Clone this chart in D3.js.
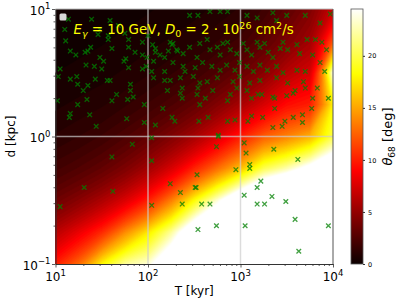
<!DOCTYPE html>
<html>
<head>
<meta charset="utf-8">
<script src="https://cdn.jsdelivr.net/npm/d3@7"></script>
<style>
body { margin: 0; background: #fff; }
text { font-family: "DejaVu Sans", sans-serif; }
</style>
</head>
<body>
<svg width="407" height="305"></svg>
<script>
var screen = {width: 407, height: 305}
var margins = {top: 9, right: 74, bottom: 41, left: 55.5}
var width = screen.width - margins.left - margins.right
var height = screen.height - margins.top - margins.bottom

// grid of theta_68: rows d = 10 ... 0.1, cols T = 10 ... 1e4 (log steps 0.25)
var gridLogT = [1, 1.25, 1.5, 1.75, 2, 2.25, 2.5, 2.75, 3, 3.25, 3.5, 3.75, 4]
var gridLogD = [1, 0.75, 0.5, 0.25, 0, -0.25, -0.5, -0.75, -1]
var theta68 = [
  [0.11, 0.14, 0.18, 0.24, 0.32, 0.43, 0.57, 0.8, 1.1, 1.8, 3.0, 4.3, 7],
  [0.2, 0.25, 0.32, 0.43, 0.57, 0.76, 1.0, 1.4, 1.9, 2.9, 4.2, 5.5, 12],
  [0.35, 0.45, 0.57, 0.76, 1.0, 1.36, 1.8, 2.5, 3.4, 4.6, 6.3, 7.5, 24],
  [0.63, 0.8, 1.0, 1.35, 1.8, 2.4, 3.2, 4.4, 5.8, 7.5, 9.3, 10, 18],
  [1.1, 1.4, 1.8, 2.4, 3.2, 4.3, 5.7, 7.6, 9.9, 12.3, 13.7, 15.4, 20],
  [2.0, 2.5, 3.2, 4.2, 5.6, 7.5, 10.2, 12.95, 16, 20.2, 22.5, 26, 30],
  [3.6, 4.6, 5.9, 7.6, 10, 13.5, 18.3, 23.5, 30, 36, 40, 42, 45],
  [6.4, 8.2, 10.4, 14, 17.5, 22, 29, 33, 45, 55, 58, 60, 65],
  [10, 12.8, 18, 22, 23.5, 29, 35, 45, 60, 75, 75, 80, 90]
]

// pulsars: [log10 T/kyr, log10 d/kpc]
var pulsarLogTD = [
  [1.10,0.84],[1.11,0.75],[1.16,0.67],[1.22,0.64],[1.32,0.66],[1.38,0.70],[1.46,0.80],[1.57,0.79],
  [1.57,0.76],[1.61,0.69],[1.48,0.62],[1.52,0.59],[1.35,0.67],[1.79,0.76],[1.79,0.70],[1.86,0.66],
  [1.94,0.74],[1.94,0.64],[2.00,0.79],[1.05,0.53],[1.33,0.56],[1.42,0.55],[1.50,0.53],[1.23,0.47],
  [1.16,0.45],[1.74,0.59],[1.76,0.61],[1.79,0.54],[1.94,0.53],[1.98,0.55],[1.03,0.47],[1.43,0.45],
  [1.56,0.44],[1.59,0.44],[1.24,0.41],[1.35,0.40],[1.30,0.36],[1.81,0.41],[1.81,0.36],[1.66,0.33],
  [1.78,0.29],[1.84,0.31],[1.24,0.25],[1.96,0.25],[1.16,0.18],[1.15,0.15],[1.37,0.17],[1.44,0.08],
  [1.77,0.14],[1.96,0.11],[1.02,0.28],[2.06,0.59],[2.08,0.69],[2.06,0.46],[2.22,0.67],[2.26,0.72],
  [2.32,0.67],[2.40,0.51],[2.37,0.38],[2.37,0.30],[2.08,0.09],[2.16,0.22],[2.26,0.15],[2.29,0.12],
  [2.18,0.51],[2.04,0.51],[1.14,0.92],[1.39,0.92],[1.59,0.91],[1.68,0.87],[1.48,0.84],[1.75,0.81],
  [1.34,0.29],[1.61,0.28],
  [2.45,0.95],[2.54,0.95],[2.67,0.98],[2.78,0.98],[2.86,0.98],[3.07,0.95],[3.35,0.97],[3.50,0.95],
  [3.70,0.95],[3.97,0.96],[3.86,0.89],[3.39,0.91],[3.18,0.93],
  [2.24,0.74],[2.05,0.72],[2.08,0.66],[2.13,0.64],[2.27,0.73],[2.31,0.68],[2.38,0.65],[2.45,0.70],
  [2.53,0.62],[2.56,0.73],[2.64,0.76],[2.67,0.68],[2.75,0.70],[2.78,0.64],[2.81,0.73],[2.86,0.74],
  [2.89,0.68],[2.96,0.65],[3.03,0.73],[3.07,0.68],[3.12,0.64],[3.18,0.74],[3.21,0.70],[3.26,0.73],
  [3.30,0.66],[3.35,0.62],[3.43,0.69],[3.46,0.74],[3.51,0.68],[3.61,0.72],[3.64,0.65],[3.72,0.76],
  [3.81,0.76],[3.88,0.74],[3.93,0.68],[3.78,0.64],[1.99,0.62],[2.18,0.62],[2.27,0.58],[2.38,0.55],
  [2.51,0.54],[2.59,0.58],[2.69,0.55],[2.78,0.52],[2.85,0.56],[2.94,0.52],[2.99,0.58],[3.07,0.55],
  [3.14,0.51],[3.21,0.56],[3.29,0.52],[3.39,0.55],[3.46,0.50],[3.61,0.52],[3.70,0.51],[3.86,0.58],
  [3.91,0.51],[2.18,0.44],[2.35,0.46],[2.49,0.47],[2.56,0.42],[2.64,0.43],[2.75,0.46],[2.92,0.43],
  [2.99,0.47],[3.10,0.42],[3.21,0.44],[3.39,0.46],[3.51,0.42],[3.68,0.43],[3.83,0.38],[3.95,0.30],
  [3.57,0.34],[3.35,0.31],[3.19,0.33],[3.07,0.36],[2.89,0.33],[2.70,0.36],[2.53,0.33],[2.35,0.34],
  [2.21,0.36],[2.24,0.44],
  [2.54,0.38],[2.62,0.30],[2.56,0.25],[2.86,0.28],[2.96,0.38],[3.12,0.30],[3.23,0.33],[3.37,0.30],
  [3.50,0.32],[3.59,0.36],[3.70,0.38],[3.78,0.30],[2.65,0.15],[2.86,0.12],[3.12,0.16],[3.24,0.15],
  [3.37,0.22],[3.48,0.12],[3.57,0.15],[3.67,0.17],[3.35,0.07],[3.45,0.08],[3.67,0.11],[3.77,0.22],
  [2.55,0.12],[2.76,0.01],[2.94,0.13],[3.08,0.12],
  [2.04,-0.01],[1.83,-0.06],[1.61,-0.16],[2.04,-0.19],[1.31,-0.40],[1.62,-0.43],[1.05,-0.55],
  [2.04,-0.54],[2.24,-0.37],[2.35,-0.44],[2.37,-0.53],[2.51,-0.40],[2.76,0.00],[3.04,-0.05],
  [2.74,-0.08],[3.06,-0.13],[3.36,-0.10],[3.10,-0.22],[3.10,-0.25],[2.95,-0.26],[3.62,-0.18],
  [2.53,-0.30],[2.52,-0.40],[3.22,-0.35],[3.18,-0.40],[3.04,-0.46],[3.34,-0.47],[3.18,-0.53],
  [3.26,-0.53],[3.49,-0.51],[2.58,-0.53],[2.67,-0.53],[3.59,-0.65],[2.74,-0.70],[2.54,-0.73],
  [3.05,-0.70],[3.95,-0.70],[3.63,-0.90]
]

var xTicks = [10, 100, 1000, 10000]
var xTickExp = ["1", "2", "3", "4"]
var yTicks = [0.1, 1, 10]
var yTickExp = ["\u22121", "0", "1"]
var cbarTicks = [0, 5, 10, 15, 20]

var vmax = 24.5
var hotStops = [0, 0.365, 0.746, 1]
var hotColors = ["rgb(11,0,0)", "rgb(255,0,0)", "rgb(255,255,0)", "rgb(255,255,255)"]
var hot = d3.scaleLinear()
    .domain(hotStops.map(function(s){ return s * vmax }))
    .range(hotColors)
    .clamp(true)

var svg = d3.select("svg")

var xScale = d3.scaleLog().domain([10, 1e4]).range([0, width])
var yScale = d3.scaleLog().domain([0.1, 10]).range([height, 0])

var graph = svg.append("g")
    .attr("id", "graph")
    .attr("transform", "translate(" + margins.left + "," + margins.top + ")")

svg.append("defs").append("clipPath").attr("id", "plotclip")
    .append("rect").attr("width", width).attr("height", height)

var drawMap = function()
{
    var nx = gridLogT.length, ny = gridLogD.length
    var dT = gridLogT[1] - gridLogT[0], dD = gridLogD[1] - gridLogD[0]
    var values = []
    theta68.forEach(function(row){ row.forEach(function(v){ values.push(Math.log10(v)) }) })

    var step = 0.35
    var levels = d3.range(step, vmax, step).concat([vmax])

    var contours = d3.contours()
        .size([nx, ny])
        .thresholds(levels.map(Math.log10))(values)

    var proj = d3.geoTransform({point: function(cx, cy) {
        this.stream.point(
            xScale(Math.pow(10, gridLogT[0] + (cx - 0.5) * dT)),
            yScale(Math.pow(10, gridLogD[0] + (cy - 0.5) * dD)))
    }})
    var path = d3.geoPath(proj)

    var bandColor = function(c) {
        var lv = Math.pow(10, c.value)
        return lv >= vmax - 1e-6 ? "#ffffff" : hot(lv + step / 2)
    }

    var map = graph.append("g").attr("clip-path", "url(#plotclip)")
    map.append("rect")
        .attr("width", width).attr("height", height)
        .attr("fill", hot(step / 2))
    map.selectAll("path")
        .data(contours)
        .enter()
        .append("path")
        .attr("d", path)
        .attr("fill", bandColor)
        .attr("stroke", bandColor)
        .attr("stroke-width", 0.3)
}

var drawGrid = function()
{
    var grid = graph.append("g")
        .attr("stroke", "#cdcdcd")
        .attr("stroke-opacity", 0.7)
        .attr("stroke-width", 1.5)
    grid.selectAll(".vx").data([100, 1000]).enter().append("line")
        .attr("x1", function(d){ return xScale(d) }).attr("x2", function(d){ return xScale(d) })
        .attr("y1", 0).attr("y2", height)
    grid.selectAll(".hy").data([1]).enter().append("line")
        .attr("x1", 0).attr("x2", width)
        .attr("y1", function(d){ return yScale(d) }).attr("y2", function(d){ return yScale(d) })
}

var drawPulsars = function()
{
    graph.append("g")
        .attr("clip-path", "url(#plotclip)")
        .selectAll("path")
        .data(pulsarLogTD)
        .enter()
        .append("path")
        .attr("transform", function(p) {
            return "translate(" + xScale(Math.pow(10, p[0])) + "," + yScale(Math.pow(10, p[1])) + ")"
        })
        .attr("d", "M-2.3,-2.3L2.3,2.3M-2.3,2.3L2.3,-2.3")
        .attr("stroke", "green")
        .attr("stroke-opacity", 0.75)
        .attr("stroke-width", 1.3)
        .attr("fill", "none")
}

var powLabel = function(sel, exp)
{
    sel.append("tspan").text("10")
    sel.append("tspan").attr("dy", -5.5).style("font-size", "8.5px").text(exp)
}

var drawAxes = function()
{
    var minor = []
    for (var k = 1; k <= 3; k++) {
        for (var m = 2; m <= 9; m++) minor.push(m * Math.pow(10, k))
    }
    var minorY = []
    for (var k2 = -1; k2 <= 0; k2++) {
        for (var m2 = 2; m2 <= 9; m2++) minorY.push(m2 * Math.pow(10, k2))
    }

    var xAx = graph.append("g").attr("transform", "translate(0," + height + ")")
    xAx.call(d3.axisBottom(xScale).tickValues(xTicks).tickSize(3.5).tickSizeOuter(0).tickFormat(""))
    xAx.append("g").call(d3.axisBottom(xScale).tickValues(minor).tickSize(2).tickSizeOuter(0).tickFormat(""))
        .select(".domain").remove()

    var yAx = graph.append("g")
    yAx.call(d3.axisLeft(yScale).tickValues(yTicks).tickSize(3.5).tickSizeOuter(0).tickFormat(""))
    yAx.append("g").call(d3.axisLeft(yScale).tickValues(minorY).tickSize(2).tickSizeOuter(0).tickFormat(""))
        .select(".domain").remove()

    graph.selectAll(".domain").attr("stroke", "#333").attr("stroke-width", 1)
    graph.selectAll(".tick line").attr("stroke", "#333").attr("stroke-width", 0.8)

    graph.append("line").attr("x1", 0).attr("x2", width).attr("y1", 0).attr("y2", 0)
        .attr("stroke", "#bbb").attr("stroke-width", 1)
    graph.append("line").attr("x1", width).attr("x2", width).attr("y1", 0).attr("y2", height)
        .attr("stroke", "#555").attr("stroke-width", 1)

    xTicks.forEach(function(t, i) {
        var lab = graph.append("text")
            .attr("x", xScale(t)).attr("y", height + 17)
            .attr("text-anchor", "middle")
            .style("font-size", "12px")
        powLabel(lab, xTickExp[i])
    })
    yTicks.forEach(function(t, i) {
        var lab = graph.append("text")
            .attr("x", -5).attr("y", yScale(t) + 5.5)
            .attr("text-anchor", "end")
            .style("font-size", "12px")
        powLabel(lab, yTickExp[i])
    })

    graph.append("text")
        .attr("x", width / 2).attr("y", height + 31)
        .attr("text-anchor", "middle")
        .style("font-size", "12px")
        .text("T [kyr]")

    graph.append("text")
        .attr("transform", "translate(" + (15 - margins.left) + "," + (height / 2) + ") rotate(-90)")
        .attr("text-anchor", "middle")
        .style("font-size", "12px")
        .text("d [kpc]")
}

var drawLabel = function()
{
    graph.append("rect")
        .attr("x", 4).attr("y", 4.5).attr("width", 7).attr("height", 7).attr("rx", 1.5)
        .attr("fill", "#d8d8d8")

    var t = graph.append("text")
        .attr("x", 18).attr("y", 25)
        .attr("fill", "#ffff00")
        .style("font-size", "13.4px")
    t.append("tspan").style("font-style", "italic").text("E")
    t.append("tspan").attr("dy", 3).style("font-size", "9.5px").style("font-style", "italic").text("\u03b3")
    t.append("tspan").attr("dy", -3).text(" = 10 GeV, ")
    t.append("tspan").style("font-style", "italic").text("D")
    t.append("tspan").attr("dy", 3).style("font-size", "9.5px").text("0")
    t.append("tspan").attr("dy", -3).text(" = 2 \u00b7 10")
    t.append("tspan").attr("dy", -5).style("font-size", "9.5px").text("26")
    t.append("tspan").attr("dy", 5).text(" cm")
    t.append("tspan").attr("dy", -5).style("font-size", "9.5px").text("2")
    t.append("tspan").attr("dy", 5).text("/s")
}

var drawColorbar = function()
{
    var cb = svg.append("g").attr("transform", "translate(351," + margins.top + ")")
    var cScale = d3.scaleLinear().domain([0, vmax]).range([height, 0])

    var grad = svg.select("defs").append("linearGradient")
        .attr("id", "hotgrad")
        .attr("x1", 0).attr("y1", 1).attr("x2", 0).attr("y2", 0)
    hotStops.forEach(function(s, i) {
        grad.append("stop").attr("offset", s).attr("stop-color", hotColors[i])
    })

    cb.append("rect")
        .attr("width", 12).attr("height", height)
        .attr("fill", "url(#hotgrad)")
        .attr("stroke", "#555").attr("stroke-width", 0.8)

    var ax = cb.append("g").attr("transform", "translate(12,0)")
        .call(d3.axisRight(cScale).tickValues(cbarTicks).tickSize(2).tickPadding(3).tickSizeOuter(0))
    ax.select(".domain").remove()
    ax.selectAll("text").style("font-size", "6.5px").style("font-family", "DejaVu Sans")
    ax.selectAll(".tick line").attr("stroke", "#333")

    var lab = cb.append("text")
        .attr("transform", "translate(41," + (height / 2) + ") rotate(-90)")
        .attr("text-anchor", "middle")
        .style("font-size", "13px")
    lab.append("tspan").style("font-style", "italic").text("\u03b8")
    lab.append("tspan").attr("dy", 3).style("font-size", "9px").text("68")
    lab.append("tspan").attr("dy", -3).text(" [deg]")
}

drawMap()
drawGrid()
drawPulsars()
drawAxes()
drawLabel()
drawColorbar()
</script>
</body>
</html>
